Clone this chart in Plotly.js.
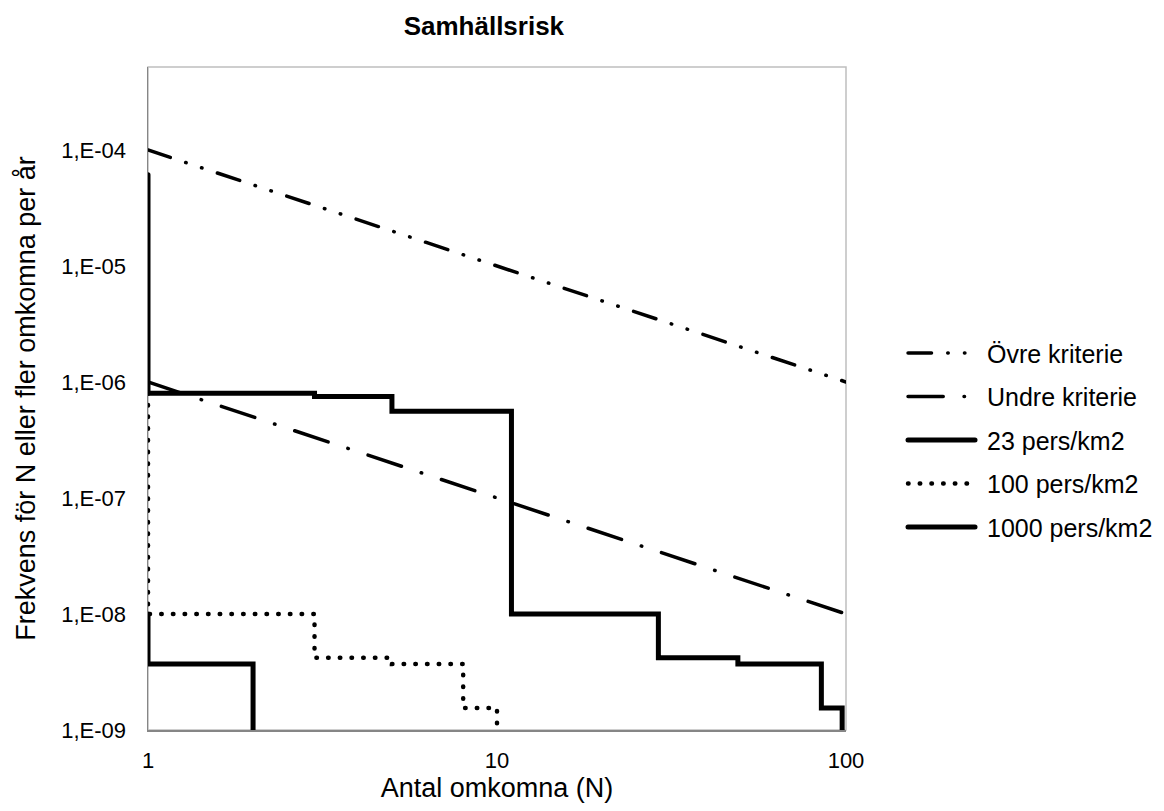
<!DOCTYPE html>
<html>
<head>
<meta charset="utf-8">
<script src="https://cdn.plot.ly/plotly-3.0.1.min.js"></script>
<style>
  html, body { margin: 0; padding: 0; background: #fff; }
  #chart { width: 1164px; height: 811px; }
  .js-line { stroke-linecap: round; }
</style>
</head>
<body>
<div id="chart"></div>
<script>
// Criteria lines
const critN = [1, 100];
const ovreF = [1e-4, 1e-6];
const undreF = [1e-6, 1e-8];

// 23 pers/km2
const n23 = [1, 1, 2, 2];
const f23 = [1e-8, 3.7e-9, 3.7e-9, 1e-10];

// 100 pers/km2
const n100 = [1, 1, 3, 3, 5, 5, 8, 8, 10, 10];
const f100 = [8e-7, 1e-8, 1e-8, 4.2e-9, 4.2e-9, 3.7e-9, 3.7e-9, 1.55e-9, 1.55e-9, 1e-10];

// 1000 pers/km2
const n1000 = [1, 1, 3, 3, 5, 5, 11, 11, 29, 29, 49, 49, 85, 85, 97.5, 97.5];
const f1000 = [6.1e-5, 8e-7, 8e-7, 7.5e-7, 7.5e-7, 5.6e-7, 5.6e-7, 1e-8, 1e-8, 4.2e-9, 4.2e-9, 3.7e-9, 3.7e-9, 1.55e-9, 1.55e-9, 1e-10];

const names = ['Övre kriterie', 'Undre kriterie', '23 pers/km2', '100 pers/km2', '1000 pers/km2'];

const yTickVals = [1e-9, 1e-8, 1e-7, 1e-6, 1e-5, 1e-4];
const yTickText = ['1,E-09', '1,E-08', '1,E-07', '1,E-06', '1,E-05', '1,E-04'];
const xTickVals = [1, 10, 100];
const xTickText = ['1', '10', '100'];

const FONT = 'Liberation Sans, Arial, sans-serif';
const NB = '\u00a0';

const traces = [
  { x: critN, y: ovreF, name: NB + names[0], legendgroup: 'g0', mode: 'lines',
    line: { color: '#000', width: 3.5, dash: '23.5px,16.2px,0.5px,16.2px,0.5px,16.2px' } },
  { x: critN, y: undreF, name: NB + names[1], legendgroup: 'g1', mode: 'lines',
    line: { color: '#000', width: 3.5, dash: '35.2px,20.8px,0.5px,20.8px' } },
  { x: n23, y: f23, name: NB + names[2], legendgroup: 'g2', mode: 'lines',
    line: { color: '#000', width: 5 } },
  { x: n100, y: f100, name: NB + names[3], legendgroup: 'g3', mode: 'lines',
    line: { color: '#000', width: 4.5, dash: '0.5px,11.2px' } },
  { x: n1000, y: f1000, name: NB + names[4], legendgroup: 'g4', mode: 'lines',
    line: { color: '#000', width: 5 } }
];

const layout = {
  width: 1164, height: 811,
  margin: { l: 148, r: 318, t: 67, b: 81, autoexpand: false },
  paper_bgcolor: '#fff', plot_bgcolor: '#fff',
  font: { family: FONT, color: '#000', size: 22 },
  title: { text: '<b>Samhällsrisk</b>', font: { family: FONT, size: 26, color: '#000' },
           x: 0.4157, xref: 'container', y: 0.968, yref: 'container', xanchor: 'center', yanchor: 'middle' },
  xaxis: {
    type: 'log', range: [0, 2], tickvals: xTickVals, ticktext: xTickText,
    showgrid: false, zeroline: false, ticks: '', showline: true, linecolor: '#868686', linewidth: 1.5,
    tickfont: { family: FONT, size: 22, color: '#000' }, ticklabelstandoff: 10,
    title: { text: 'Antal omkomna (N)', font: { family: FONT, size: 27, color: '#000' }, standoff: 6 }
  },
  yaxis: {
    type: 'log', range: [-9, -3.285], tickvals: yTickVals, ticktext: yTickText,
    showgrid: false, zeroline: false, ticks: '', showline: true, linecolor: '#868686', linewidth: 1.5,
    tickfont: { family: FONT, size: 22, color: '#000' }, ticklabelstandoff: 16,
    title: { text: 'Frekvens för N eller fler omkomna per år', font: { family: FONT, size: 27, color: '#000' }, standoff: 18 }
  },
  shapes: [
    { type: 'rect', xref: 'paper', yref: 'paper', x0: 0, x1: 1, y0: 0, y1: 1,
      line: { color: '#bfbfbf', width: 1.5 }, fillcolor: 'rgba(0,0,0,0)', layer: 'below' }
  ],
  showlegend: true,
  legend: {
    xref: 'container', x: 0.7758, xanchor: 'left', y: 0.437, yanchor: 'middle',
    font: { family: FONT, size: 25, color: '#000' },
    tracegroupgap: 8, itemwidth: 67, bgcolor: 'rgba(0,0,0,0)'
  }
};

Plotly.newPlot('chart', traces, layout, { displayModeBar: false, staticPlot: true });
</script>
</body>
</html>
